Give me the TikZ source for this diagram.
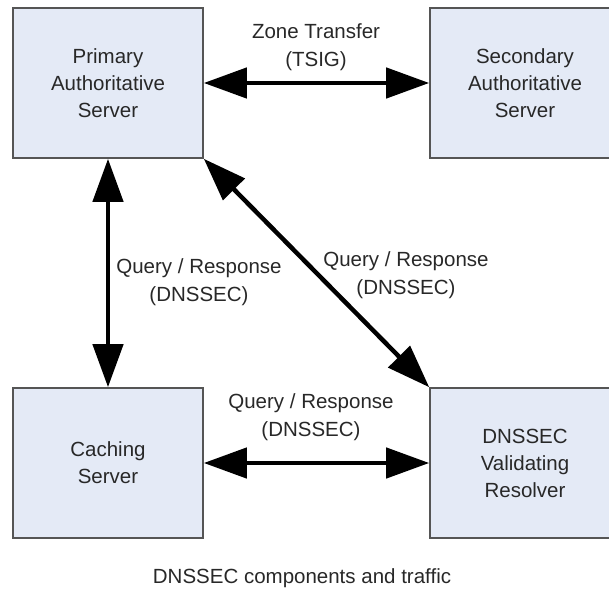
\documentclass[tikz,border=0pt]{standalone}
\usepackage{fontspec}
\setmainfont{Liberation Sans}
\usetikzlibrary{arrows.meta}
\definecolor{boxfill}{RGB}{228,234,246}
\definecolor{boxline}{RGB}{85,85,85}
\definecolor{txt}{RGB}{40,40,40}
\tikzset{
  server/.style={draw=boxline, line width=1.6pt, fill=boxfill, minimum width=190pt, minimum height=150pt,
    align=center, text=txt, font=\fontsize{20.5}{27}\selectfont, inner sep=0pt},
  lbl/.style={align=center, text=txt, font=\fontsize{20.5}{28}\selectfont, inner sep=0pt},
  link/.style={line width=4.5pt, {Triangle[length=43pt,width=30pt]}-{Triangle[length=43pt,width=30pt]}, shorten <=0pt, shorten >=0pt}
}
\begin{document}
\begin{tikzpicture}[x=1pt,y=-1pt]
\useasboundingbox (0,0) rectangle (609,593);
\node[server] (pa) at (108,83) {Primary\\Authoritative\\Server};
\node[server] (sa) at (525,83) {Secondary\\Authoritative\\Server};
\node[server] (cs) at (108,463) {Caching\\Server};
\node[server] (dv) at (525,463) {DNSSEC\\Validating\\Resolver};
\draw[link] (pa.east) -- (sa.west);
\draw[link] (pa.south) -- (cs.north);
\draw[link] (pa.south east) -- (dv.north west);
\draw[link] (cs.east) -- (dv.west);
\node[lbl] (l1) at (316,47) {Zone Transfer\\(TSIG)};
\node[lbl] (l2) at (199,282) {Query / Response\\(DNSSEC)};
\node[lbl] (l3) at (406,275) {Query / Response\\(DNSSEC)};
\node[lbl] (l4) at (311,417) {Query / Response\\(DNSSEC)};
\node[lbl] (cap) at (302,578) {DNSSEC components and traffic};
\end{tikzpicture}
\end{document}
